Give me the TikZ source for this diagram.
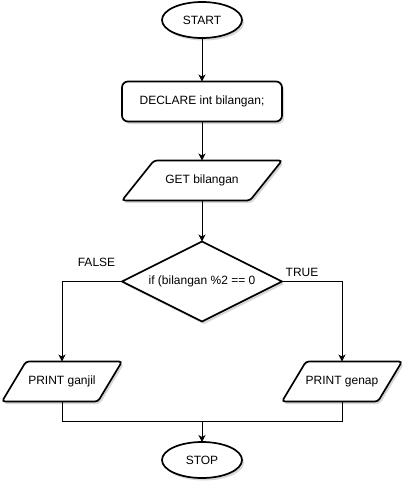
\documentclass[tikz,border=0pt]{standalone}
\usepackage{fontspec}
\setmainfont{Liberation Sans}
\usetikzlibrary{shapes.geometric,arrows.meta,shadows,backgrounds}
\begin{document}
\begin{tikzpicture}[x=1pt,y=-1pt,
  font=\fontsize{12}{14}\selectfont,
  shadowed/.style={drop shadow={shadow xshift=2pt,shadow yshift=-2.5pt,opacity=0.35,fill=black!45}},
  shapebase/.style={draw, line width=1.7pt, fill=white, inner sep=0pt, outer sep=0pt, shadowed},
  terminal/.style={shapebase, ellipse, minimum width=80pt, minimum height=36pt},
  process/.style={shapebase, rectangle, rounded corners=6pt, minimum width=160pt, minimum height=40pt},
  iobox/.style={rectangle, inner sep=0pt, outer sep=0pt, minimum height=40pt},
  iobig/.style={iobox, minimum width=160pt},
  iosmall/.style={iobox, minimum width=120pt},
  iopath/.style={draw, line width=1.7pt, fill=white, rounded corners=3pt, shadowed},
  decision/.style={shapebase, diamond, minimum width=160pt, minimum height=80pt, aspect=2},
  conn/.style={line width=1pt, draw=black},
  arr/.style={conn, -{Stealth[length=7pt,width=7pt,inset=2pt]}},
  lbl/.style={inner sep=0pt}
]
\useasboundingbox (0,0) rectangle (413,493);

\node[terminal] (start) at (202,20) {START};
\node[process] (decl) at (202,101.5) {DECLARE int bilangan;};
\node[iobig] (get) at (202,180.5) {GET bilangan};
\node[decision] (dec) at (202,281.5) {if (bilangan \%2 == 0};
\node[iosmall] (ganjil) at (62,381.5) {PRINT ganjil};
\node[iosmall] (genap) at (342,381.5) {PRINT genap};
\node[terminal] (stop) at (202,460) {STOP};

\begin{scope}[on background layer]
\path[iopath] ([xshift=32pt]get.north west) -- (get.north east)
   -- ([xshift=-32pt]get.south east) -- (get.south west) -- cycle;
\path[iopath] ([xshift=24pt]ganjil.north west) -- (ganjil.north east)
   -- ([xshift=-24pt]ganjil.south east) -- (ganjil.south west) -- cycle;
\path[iopath] ([xshift=24pt]genap.north west) -- (genap.north east)
   -- ([xshift=-24pt]genap.south east) -- (genap.south west) -- cycle;
\end{scope}

\node[lbl] (lfalse) at (96.5,262) {FALSE};
\node[lbl] (ltrue) at (302,272) {TRUE};

\coordinate (join) at (202,421);

\draw[arr] (start) -- (decl);
\draw[arr] (decl) -- (get);
\draw[arr] (get) -- (dec);
\draw[arr] (dec.west) -| (ganjil.north);
\draw[arr] (dec.east) -| (genap.north);
\draw[conn] (ganjil.south) |- (join);
\draw[conn] (genap.south) |- (join);
\draw[arr] (join) -- (stop);
\end{tikzpicture}
\end{document}
